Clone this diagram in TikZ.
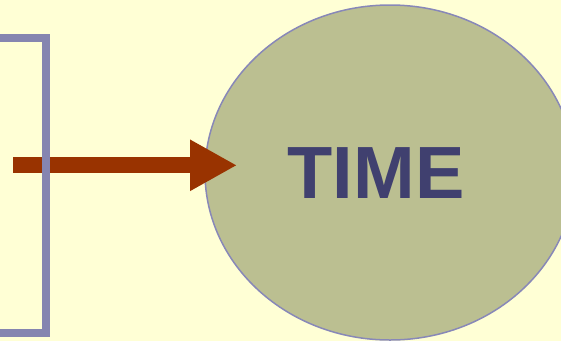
\documentclass[tikz,border=0pt]{standalone}
\usepackage{fontspec}
\setmainfont{Liberation Sans}
\usetikzlibrary{shapes.geometric,arrows.meta}
\definecolor{bgyellow}{HTML}{FFFFD5}
\definecolor{bracketc}{HTML}{8585B0}
\definecolor{ellfill}{HTML}{BBBF91}
\definecolor{ellline}{HTML}{8888B8}
\definecolor{arrowc}{HTML}{993300}
\definecolor{textc}{HTML}{40406F}
\tikzset{
  timeellipse/.style={ellipse, draw=ellline, fill=ellfill, line width=1.5pt,
    minimum width=370pt, minimum height=335pt, inner sep=0pt},
  bigarrow/.style={draw=arrowc, line width=16pt, line cap=butt,
    -{Triangle[length=47pt,width=48pt,fill=arrowc]}},
  bracketline/.style={draw=bracketc, line width=8pt, line join=miter},
  timelabel/.style={text=textc, font=\fontsize{74}{80}\selectfont\bfseries, inner sep=0pt}
}
\begin{document}
\begin{tikzpicture}[x=1pt,y=-1pt]
  \useasboundingbox (0,0) rectangle (561,341);
  \clip (0,0) rectangle (561,341);
  \fill[bgyellow] (0,0) rectangle (561,341);
  \node[timeellipse] (time) at (390,172.5) {};
  \node[timelabel] (label) at (376,173.5) {TIME};
  \coordinate (astart) at (13,165.3);
  \coordinate (aend) at (237,165.3);
  \draw[bigarrow] (astart) -- (aend);
  \coordinate (btop) at (-10,38);
  \coordinate (bbot) at (-10,333);
  \draw[bracketline] (btop) -- (45.5,38) -- (45.5,333) -- (bbot);
\end{tikzpicture}
\end{document}
